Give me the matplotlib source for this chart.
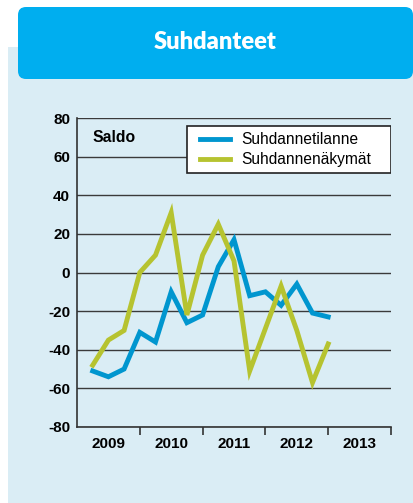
#!/usr/bin/env python3

import matplotlib
matplotlib.use("Agg")
import matplotlib.pyplot as plt
from matplotlib.patches import FancyBboxPatch, Rectangle

plt.rcParams['font.family'] = ['Liberation Sans', 'DejaVu Sans']
plt.rcParams['axes.unicode_minus'] = False

# quarterly balance figures (saldo)
quarters = ["2009Q1", "2009Q2", "2009Q3", "2009Q4",
            "2010Q1", "2010Q2", "2010Q3", "2010Q4",
            "2011Q1", "2011Q2", "2011Q3", "2011Q4",
            "2012Q1", "2012Q2", "2012Q3", "2012Q4"]
tilanne = [-51, -54, -50, -31, -36, -10, -26, -22, 3, 17, -12, -10, -17, -6, -21, -23]
nakymat = [-48, -35, -30, 0, 9, 31, -22, 9, 25, 6, -51, -29, -7, -30, -57, -37]

years = [2009, 2010, 2011, 2012, 2013]
yticks = [-80, -60, -40, -20, 0, 20, 40, 60, 80]

title = "Suhdanteet"
series_names = ["Suhdannetilanne", "Suhdannenäkymät"]
colors = ["#0096CF", "#B6C330"]
panel_color = "#DAEDF5"
header_color = "#00AEEF"

W, H = 414, 503
fig = plt.figure(figsize=(W / 100, H / 100), dpi=100)
tr = fig.dpi_scale_trans

# light panel and header box (pixel units / 100 -> inches)
fig.patches.append(Rectangle((8 / 100, 0), (W - 8) / 100, (H - 47) / 100,
                             transform=tr, facecolor=panel_color, edgecolor='none', zorder=-2))
fig.patches.append(FancyBboxPatch((18 / 100, (H - 79) / 100), (413 - 18) / 100, 72 / 100,
                                  boxstyle="round,pad=0,rounding_size=0.08",
                                  transform=tr, facecolor=header_color, edgecolor='none', zorder=-1))
fig.text(215 / W, 1 - 42 / H, title, color='white', fontsize=17, fontweight='heavy',
         family=['Lato', 'DejaVu Sans'], ha='center', va='center')

ax = fig.add_axes([77 / W, 1 - 427 / H, (391 - 77) / W, (427 - 118) / H])
ax.set_facecolor('none')

x = [int(q[:4]) + int(q[-1]) * 0.25 for q in quarters]
for vals, name, c in zip([tilanne, nakymat], series_names, colors):
    ax.plot(x, vals, color=c, lw=3.5, label=name, solid_joinstyle='miter', zorder=3)

ax.set_xlim(2009, 2014)
ax.set_ylim(-80, 80)

ax.set_xticks([y + 1 for y in years])
ax.set_xticklabels([])
ax.set_xticks([y + 0.5 for y in years], minor=True)
ax.set_xticklabels([str(y) for y in years], minor=True, fontsize=11, fontweight='bold')
ax.tick_params(axis='x', which='major', length=6, width=1.2, color='#333333')
ax.tick_params(axis='x', which='minor', length=0, pad=7)

ax.set_yticks(yticks)
ax.set_yticklabels([str(v) for v in yticks], fontsize=11, fontweight='bold')
ax.tick_params(axis='y', length=0, pad=5)

ax.grid(True, axis='y', color='#3a3a3a', lw=1.0, zorder=1)
ax.set_axisbelow(True)

for s in ['top', 'right']:
    ax.spines[s].set_visible(False)
for s in ['left', 'bottom']:
    ax.spines[s].set_color('#333333')
    ax.spines[s].set_linewidth(1.2)

ax.text(2009.25, 70, "Saldo", fontsize=11.3, fontweight='bold', va='center', ha='left')

# legend box drawn separately, it is wider than its contents
ax.add_patch(Rectangle((0.35, 0.822), 0.65, 0.152, transform=ax.transAxes,
                       facecolor='white', edgecolor='#222222', lw=1.2, zorder=4))
leg = ax.legend(loc='center left', bbox_to_anchor=(0.392, 0.897), fontsize=11.2,
                frameon=False, handlelength=1.9, handletextpad=0.75, labelspacing=0.3,
                borderpad=0, borderaxespad=0)
leg.set_zorder(5)

fig.savefig("out.png", dpi=100)
